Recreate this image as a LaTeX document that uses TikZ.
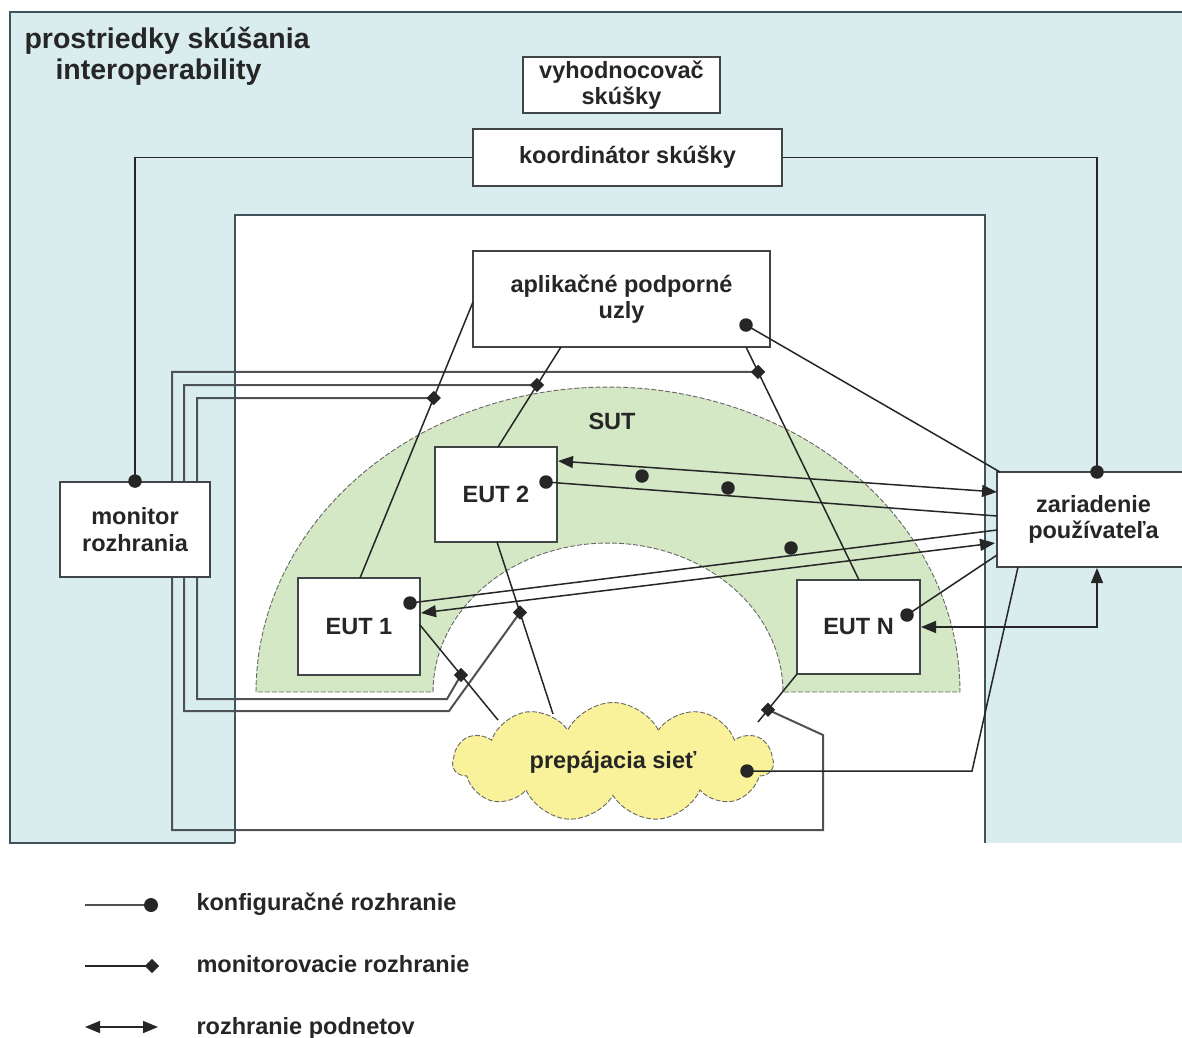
\documentclass[tikz,border=0pt]{standalone}
\usepackage{fontspec}
\setmainfont{Liberation Sans}
\usetikzlibrary{arrows.meta,shapes.symbols,shapes.geometric}
\definecolor{frameblue}{RGB}{217,236,238}
\definecolor{sutgreen}{RGB}{212,232,198}
\definecolor{netyellow}{RGB}{249,242,155}
\definecolor{ink}{RGB}{38,38,38}
\definecolor{edge}{RGB}{64,70,72}
\definecolor{frameline}{RGB}{62,84,90}
\definecolor{monink}{RGB}{78,82,84}
\begin{document}
\begin{tikzpicture}[x=1pt,y=-1pt,
  txt/.style={font=\fontsize{23.5}{26.5}\selectfont\bfseries,text=ink},
  titletxt/.style={font=\fontsize{28.5}{31}\selectfont\bfseries,text=ink},
  box/.style={draw=edge,line width=1.9pt,fill=white,align=center,txt,inner sep=0pt},
  border/.style={draw=frameline,line width=1.9pt},
  link/.style={draw=ink,line width=1.5pt},
  monline/.style={draw=monink,line width=2pt},
  cfgdot/.style={circle,fill=ink,inner sep=0pt,minimum size=13.5pt},
  mondia/.style={diamond,fill=ink,inner sep=0pt,minimum size=14.5pt},
  stim/.style={link,{Triangle[length=15pt,width=12pt]}-{Triangle[length=15pt,width=12pt]}},
  dashedge/.style={draw=ink!70,line width=0.9pt,dash pattern=on 5pt off 2pt},
]
\useasboundingbox (0,0) rectangle (1182,1037);
\clip (0,0) rectangle (1182,1037);
\fill[white] (0,0) rectangle (1182,1037);

% frame of the test means, with the open bay in the middle
\fill[frameblue] (10,12) rectangle (1200,843);
\fill[white] (235,215) rectangle (985,850);
\draw[border] (235,843) -- (10,843) -- (10,12) -- (1200,12);
\draw[border] (235,843) -- (235,215) -- (985,215) -- (985,843);

\node[titletxt,anchor=base west] (title1) at (21,48) {prostriedky skúšania};
\node[titletxt,anchor=base west] (title2) at (52,79) {interoperability};

% system under test: half ring
\path[fill=sutgreen,dashedge]
  plot[domain=180:360,samples=90] ({608+352*cos(\x)},{692+305*sin(\x)})
  -- (783,692)
  -- plot[domain=360:180,samples=70] ({608+175*cos(\x)},{692+149*sin(\x)})
  -- cycle;
\node[txt] (sut) at (612,421) {SUT};

% interconnecting network
\node[cloud,cloud puffs=11,cloud puff arc=125,cloud ignores aspect,
      minimum width=320pt,minimum height=119pt,fill=netyellow,dashedge,
      txt,inner sep=0pt] (net) at (613,762) {prepájacia sieť};

% ports on the links
\coordinate (a1) at (473,302);
\coordinate (a2) at (561,347);
\coordinate (a3) at (746,347);
\coordinate (e1t) at (360,578);
\coordinate (e2t) at (498,447);
\coordinate (ent) at (859,580);
\coordinate (e1r) at (420,625);
\coordinate (e2b) at (497,542);
\coordinate (enb) at (797,674);
\coordinate (n1) at (498,720);
\coordinate (n2) at (553,714);
\coordinate (n3) at (758,722);

% monitoring taps on the links
\path (a1) -- coordinate[pos=0.348] (dC1) (e1t);
\path (a2) -- coordinate[pos=0.38] (dB1) (e2t);
\path (a3) -- coordinate[pos=0.107] (dA1) (ent);
\path (e1r) -- coordinate[pos=0.526] (dC2) (n1);
\path (e2b) -- coordinate[pos=0.41] (dB2) (n2);
\path (enb) -- coordinate[pos=0.745] (dA2) (n3);

% monitor lines
\draw[monline] (dA1) -| (172,830) -- (823,830) -- (823,735) -- (dA2);
\draw[monline] (dB1) -| (184,711) -- (449,711) -- (dB2);
\draw[monline] (dC1) -| (197,699) -- (447,699) -- (dC2);

% boxes
\node[box,minimum width=197pt,minimum height=56pt] (eval) at (621.5,85) {vyhodnocovač\\skúšky};
\node[box,minimum width=309pt,minimum height=57pt] (coord) at (627.5,157.5) {koordinátor skúšky};
\node[box,minimum width=297pt,minimum height=96pt] (app) at (621.5,299) {aplikačné podporné\\uzly};
\node[box,minimum width=150pt,minimum height=95pt] (mon) at (135,529.5) {monitor\\rozhrania};
\node[box,minimum width=122pt,minimum height=97pt] (eut1) at (359,626.5) {EUT 1};
\node[box,minimum width=122pt,minimum height=95pt] (eut2) at (496,494.5) {EUT 2};
\node[box,minimum width=123pt,minimum height=94pt] (eutn) at (858.5,627) {EUT N};
\node[box,minimum width=193pt,minimum height=95pt] (user) at (1093.5,519.5) {zariadenie\\používateľa};

% links between application nodes, EUTs and network
\draw[link] (a1) -- (e1t);
\draw[link] (a2) -- (e2t);
\draw[link] (a3) -- (ent);
\draw[link] (e1r) -- (n1);
\draw[link] (e2b) -- (n2);
\draw[link] (enb) -- (n3);
\foreach \d in {dA1,dB1,dC1,dA2,dB2,dC2} \node[mondia] at (\d) {};

% configuration interfaces
\coordinate (ucfg) at (1097,472);
\coordinate (ucorner) at (1000,472);
\coordinate (u2) at (997,516);
\coordinate (u1) at (997,530);
\coordinate (un) at (997,555);
\coordinate (ubn) at (1018,567);
\coordinate (appdot) at (746,325);
\coordinate (e2dot) at (546,482);
\coordinate (e1dot) at (410,603);
\coordinate (endot) at (907,615);
\coordinate (netdot) at (747,771);

\draw[link] (coord.west) -| (mon.north);
\draw[link] (coord.east) -| (ucfg);
\draw[link] (appdot) -- (ucorner);
\draw[link] (e2dot) -- (u2);
\draw[link] (e1dot) -- (u1);
\draw[link] (endot) -- (un);
\draw[link] (netdot) -- (972,771) -- (ubn);

\node[cfgdot] (dmon) at (mon.north) {};
\node[cfgdot] (duser) at (ucfg) {};
\node[cfgdot] (dapp) at (appdot) {};
\node[cfgdot] (de2) at (e2dot) {};
\node[cfgdot] (de1) at (e1dot) {};
\node[cfgdot] (den) at (endot) {};
\node[cfgdot] (dnet) at (netdot) {};
\node[cfgdot] (dx1) at (642,476) {};
\node[cfgdot] (dx2) at (728,488) {};
\node[cfgdot] (dx3) at (791,548) {};

% stimulus interfaces
\coordinate (s2a) at (558,461);
\coordinate (s2b) at (997,492);
\coordinate (s1a) at (421,613);
\coordinate (s1b) at (995,543);
\coordinate (sna) at (921,627);
\coordinate (snb) at (1097,568);
\draw[stim] (s2a) -- (s2b);
\draw[stim] (s1a) -- (s1b);
\draw[stim] (sna) -- (1097,627) -- (snb);

% legend
\coordinate (l1a) at (85,905); \coordinate (l1b) at (151,905);
\coordinate (l2a) at (85,966); \coordinate (l2b) at (152,966);
\coordinate (l3a) at (85,1027); \coordinate (l3b) at (158,1027);
\draw[link,draw=ink!80] (l1a) -- (l1b);
\node[cfgdot,minimum size=14pt] (lg1) at (l1b) {};
\draw[link] (l2a) -- (l2b);
\node[mondia] (lg2) at (l2b) {};
\draw[stim] (l3a) -- (l3b);
\node[txt,anchor=base west] (lt1) at (193,910) {konfiguračné rozhranie};
\node[txt,anchor=base west] (lt2) at (193,972) {monitorovacie rozhranie};
\node[txt,anchor=base west] (lt3) at (193,1034) {rozhranie podnetov};
\end{tikzpicture}
\end{document}
